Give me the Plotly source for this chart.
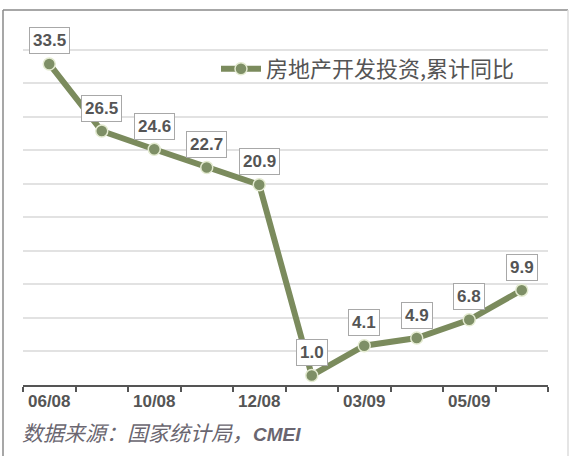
import plotly.graph_objects as go

# ---- data ----
months = ["06/08", "09/08", "10/08", "11/08", "12/08", "02/09", "03/09", "04/09", "05/09", "06/09"]
growth = [33.5, 26.5, 24.6, 22.7, 20.9, 1.0, 4.1, 4.9, 6.8, 9.9]
shown_ticks = ["06/08", "10/08", "12/08", "03/09", "05/09"]
series_name = "房地产开发投资,累计同比"
source_text = "数据来源：国家统计局，"
source_brand = "CMEI"

W, H = 571, 456
ML, MR, MT, MB = 23, 23, 40, 71

LINE_COLOR = "#7b8b5d"
MARKER_FILL = "#7e8f66"
MARKER_EDGE = "#e3ead0"
TEXT_GRAY = "#555555"

fig = go.Figure()
fig.add_trace(go.Scatter(
    x=months, y=growth, name=series_name, mode="lines+markers",
    line=dict(color=LINE_COLOR, width=6),
    marker=dict(size=12, color=MARKER_FILL, line=dict(color=MARKER_EDGE, width=1.5)),
    cliponaxis=False, hoverinfo="skip",
))

for m, v in zip(months, growth):
    fig.add_annotation(
        x=m, y=v, xref="x", yref="y", text=f"<b>{v:.1f}</b>", showarrow=False,
        yshift=23, font=dict(family="Liberation Sans, Arial", size=17, color=TEXT_GRAY),
        bgcolor="white", bordercolor="#a8a8a8", borderwidth=1, borderpad=3,
    )

fig.add_annotation(
    x=-0.005, y=-0.135, xref="paper", yref="paper", xanchor="left", yanchor="middle",
    showarrow=False,
    text=(f"{source_text}<span style=\"font-family:'Liberation Sans', Arial;font-weight:bold;font-size:19px\">"
          f"{source_brand}</span>"),
    font=dict(family="Noto Sans CJK SC", size=21, color="#6a6670", style="italic"),
)

plot_w = W - ML - MR
plot_h = H - MT - MB
# outer frame (left, top, right)
x0 = (3 - ML) / plot_w
x1 = (568 - ML) / plot_w
ytop = 1 + (MT - 10) / plot_h
ybot = -(MB + 5) / plot_h
fig.add_shape(type="line", xref="paper", yref="paper", x0=x0, x1=x0, y0=ybot, y1=ytop,
              line=dict(color="#8a8a8a", width=1.5))
fig.add_shape(type="line", xref="paper", yref="paper", x0=x0, x1=x1, y0=ytop, y1=ytop,
              line=dict(color="#8a8a8a", width=1.5))
fig.add_shape(type="line", xref="paper", yref="paper", x0=x1, x1=x1, y0=ybot, y1=ytop,
              line=dict(color="#dddddd", width=1.5))

fig.update_layout(
    width=W, height=H,
    margin=dict(l=ML, r=MR, t=MT, b=MB),
    paper_bgcolor="white", plot_bgcolor="white",
    showlegend=True,
    legend=dict(
        x=(216 - ML) / plot_w, y=1 - (69 - MT) / plot_h, xanchor="left", yanchor="middle",
        bgcolor="rgba(0,0,0,0)", font=dict(family="Noto Sans CJK SC", size=22, color=TEXT_GRAY),
        itemwidth=40,
    ),
    xaxis=dict(
        type="category", categoryorder="array", categoryarray=months,
        range=[-0.5, len(months) - 0.5],
        tickmode="array", tickvals=months,
        ticktext=[m if m in shown_ticks else "" for m in months],
        tickson="boundaries", ticks="outside", ticklen=5, tickwidth=2, tickcolor="#555555",
        tickangle=0, automargin=False,
        showline=True, linecolor="#555555", linewidth=2, showgrid=False, zeroline=False,
        tickfont=dict(family="Liberation Sans, Arial", size=17, color=TEXT_GRAY, weight="bold"),
    ),
    yaxis=dict(
        range=[0, 36], tick0=0, dtick=3.5, showticklabels=False, ticks="",
        showgrid=True, gridcolor="#e2e2e2", gridwidth=1.5, zeroline=False, showline=False,
    ),
)

fig.write_html(
    "out.html",
    config={"displayModeBar": False},
    post_script="document.body.style.margin='0';document.body.style.padding='0';",
)
